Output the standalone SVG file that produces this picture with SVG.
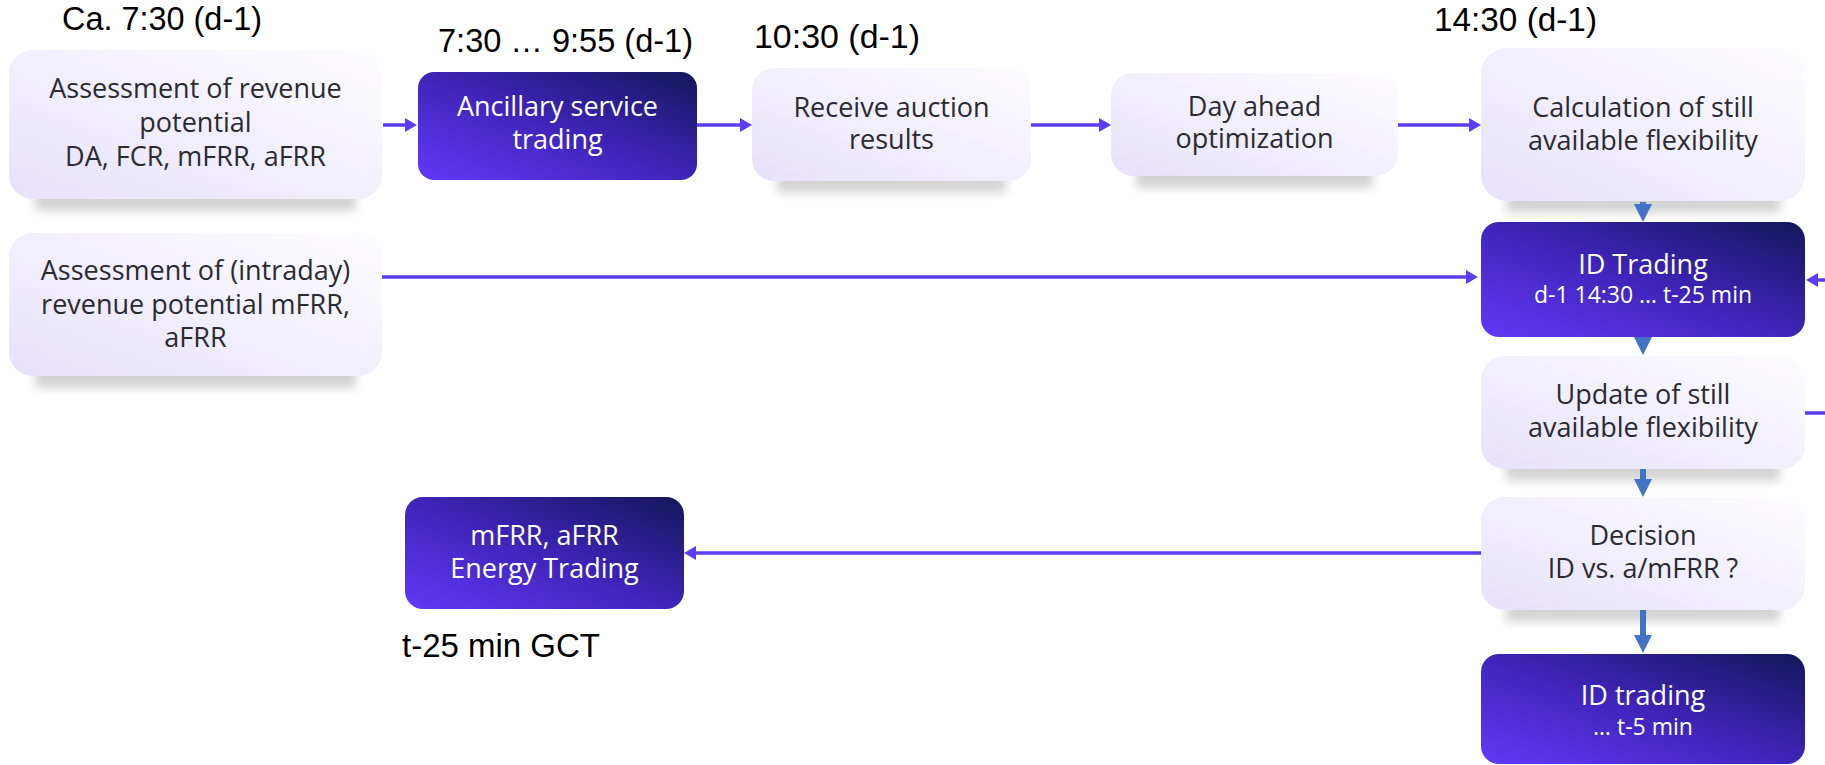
<svg xmlns="http://www.w3.org/2000/svg" width="1825" height="765" viewBox="0 0 1825 765">
<defs>
<linearGradient id="gl" x1="0" y1="1" x2="1" y2="0">
<stop offset="0" stop-color="#e7e2fb"/>
<stop offset="1" stop-color="#fdfcff"/>
</linearGradient>
<linearGradient id="gd" x1="0" y1="1" x2="1" y2="0">
<stop offset="0" stop-color="#6139f8"/>
<stop offset="0.5" stop-color="#3f24b8"/>
<stop offset="1" stop-color="#14165a"/>
</linearGradient>
<filter id="blur" x="-20%" y="-100%" width="140%" height="300%">
<feGaussianBlur stdDeviation="5"/>
</filter>
<marker id="ap" markerUnits="userSpaceOnUse" markerWidth="12" markerHeight="14" refX="4" refY="7" orient="auto">
<path d="M0,0 L12,7 L0,14 z" fill="#5c3cf4"/>
</marker>
<marker id="ab" markerUnits="userSpaceOnUse" markerWidth="18" markerHeight="18" refX="8" refY="9" orient="auto">
<path d="M0,0 L18,9 L0,18 z" fill="#4472c4"/>
</marker>
</defs>
<style>
.lb{fill:url(#gl)}
.db{fill:url(#gd)}
.sh{fill:#000;opacity:0.17;filter:url(#blur)}
.t{font-family:'Open Sans','Noto Sans',sans-serif;font-size:27px;text-anchor:middle;fill:#2b2a30}
.w{fill:#ffffff}
.s{font-size:23px}
.ts{font-family:'Liberation Sans',Arial,sans-serif;font-size:33px;fill:#000}
.cp{fill:none;stroke:#5c3cf4;stroke-width:3.5;marker-end:url(#ap)}
.cb{fill:none;stroke:#4472c4;stroke-width:6;marker-end:url(#ab)}
</style>
<rect width="1825" height="765" fill="#ffffff"/>

<g id="labels">
<text class="ts" x="62" y="30" textLength="200" lengthAdjust="spacingAndGlyphs">Ca. 7:30 (d-1)</text>
<text class="ts" x="438" y="52" textLength="255" lengthAdjust="spacingAndGlyphs">7:30 … 9:55 (d-1)</text>
<text class="ts" x="754" y="48" textLength="166" lengthAdjust="spacingAndGlyphs">10:30 (d-1)</text>
<text class="ts" x="1434" y="31" textLength="163" lengthAdjust="spacingAndGlyphs">14:30 (d-1)</text>
<text class="ts" x="402" y="657" textLength="198" lengthAdjust="spacingAndGlyphs">t-25 min GCT</text>
</g>

<g id="assess-da">
<rect class="sh" x="35" y="187" width="321" height="24"/>
<rect class="lb" x="9" y="50" width="373" height="149" rx="24"/>
<text class="t" x="195.5" y="98">Assessment of revenue</text>
<text class="t" x="195.5" y="132">potential</text>
<text class="t" x="195.5" y="166">DA, FCR, mFRR, aFRR</text>
</g>

<g id="ancillary">
<rect class="db" x="418" y="72" width="279" height="108" rx="16"/>
<text class="t w" x="557.5" y="116">Ancillary service</text>
<text class="t w" x="557.5" y="149">trading</text>
</g>

<g id="receive">
<rect class="sh" x="777" y="169" width="229" height="24"/>
<rect class="lb" x="752" y="68" width="279" height="113" rx="22"/>
<text class="t" x="891.5" y="117">Receive auction</text>
<text class="t" x="891.5" y="149">results</text>
</g>

<g id="dayahead">
<rect class="sh" x="1136" y="164" width="237" height="24"/>
<rect class="lb" x="1111" y="73" width="287" height="103" rx="22"/>
<text class="t" x="1254.5" y="116">Day ahead</text>
<text class="t" x="1254.5" y="148">optimization</text>
</g>

<g id="calc">
<rect class="sh" x="1506" y="189" width="274" height="24"/>
<rect class="lb" x="1481" y="48" width="324" height="153" rx="26"/>
<text class="t" x="1643" y="117">Calculation of still</text>
<text class="t" x="1643" y="150">available flexibility</text>
</g>

<g id="idtrading1">
<rect class="db" x="1481" y="222" width="324" height="115" rx="18"/>
<text class="t w" x="1643" y="274">ID Trading</text>
<text class="t w s" x="1643" y="303">d-1 14:30 … t-25 min</text>
</g>

<g id="update">
<rect class="sh" x="1506" y="457" width="274" height="24"/>
<rect class="lb" x="1481" y="356" width="324" height="113" rx="24"/>
<text class="t" x="1643" y="404">Update of still</text>
<text class="t" x="1643" y="437">available flexibility</text>
</g>

<g id="decision">
<rect class="sh" x="1506" y="598" width="274" height="24"/>
<rect class="lb" x="1481" y="497" width="324" height="113" rx="24"/>
<text class="t" x="1643" y="545">Decision</text>
<text class="t" x="1643" y="578">ID vs. a/mFRR ?</text>
</g>

<g id="idtrading2">
<rect class="db" x="1481" y="654" width="324" height="110" rx="18"/>
<text class="t w" x="1643" y="705">ID trading</text>
<text class="t w s" x="1643" y="735">… t-5 min</text>
</g>

<g id="assess-id">
<rect class="sh" x="35" y="364" width="321" height="24"/>
<rect class="lb" x="9" y="233" width="373" height="143" rx="24"/>
<text class="t" x="195.5" y="280">Assessment of (intraday)</text>
<text class="t" x="195.5" y="314">revenue potential mFRR,</text>
<text class="t" x="195.5" y="347">aFRR</text>
</g>

<g id="mfrr">
<rect class="db" x="405" y="497" width="279" height="112" rx="18"/>
<text class="t w" x="544.5" y="545">mFRR, aFRR</text>
<text class="t w" x="544.5" y="578">Energy Trading</text>
</g>

<g id="connectors">
<path class="cp" d="M383,125 H409"/>
<path class="cp" d="M697,125 H744"/>
<path class="cp" d="M1031,125 H1103"/>
<path class="cp" d="M1398,125 H1473"/>
<path class="cp" d="M382,277 H1470"/>
<path class="cp" d="M1805,413 H1845 V280 H1814"/>
<path class="cp" d="M1481,553 H692"/>
<path class="cb" d="M1643,202 V212"/>
<path class="cb" d="M1643,337 V345"/>
<path class="cb" d="M1643,469 V487"/>
<path class="cb" d="M1643,610 V643"/>
</g>
</svg>
